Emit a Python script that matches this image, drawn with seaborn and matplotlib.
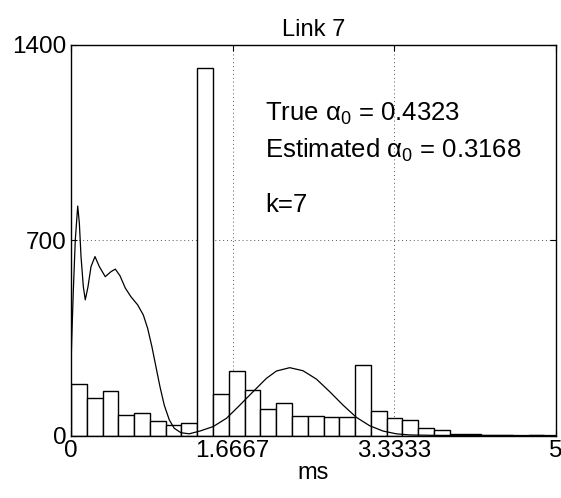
import matplotlib
matplotlib.use("Agg")
import matplotlib.pyplot as plt
import seaborn as sns
import pandas as pd

# histogram: 30 equal bins starting at 0
bin_width = 0.1627
counts = [183, 133, 160, 72, 80, 51, 37, 44, 1315, 147,
          232, 164, 95, 115, 69, 71, 65, 65, 251, 87,
          64, 54, 26, 20, 6, 4, 2, 1, 0, 1]

# fitted density curve (scaled)
curve_x = [0.0, 0.007, 0.024, 0.044, 0.069, 0.086, 0.103, 0.127, 0.147, 0.175,
           0.206, 0.247, 0.292, 0.353, 0.412, 0.457, 0.505, 0.560, 0.618, 0.687,
           0.745, 0.790, 0.834, 0.875, 0.917, 0.961, 1.013, 1.064, 1.133, 1.218,
           1.329, 1.466, 1.604, 1.741, 1.877, 2.015, 2.118, 2.255, 2.392, 2.530,
           2.667, 2.804, 2.942, 3.079, 3.216, 3.354, 3.491, 3.75, 4.2, 5.0]
curve_y = [250, 342, 521, 701, 822, 760, 641, 533, 486, 533,
           605, 641, 605, 569, 587, 596, 572, 528, 497, 468,
           432, 384, 318, 247, 175, 109, 56, 26, 10, 6,
           16, 32, 62, 109, 157, 205, 231, 243, 232, 202,
           157, 109, 65, 35, 16, 6, 2, 0.5, 0, 0]

xticks = [0, 1.6667, 3.3333, 5]
xtick_labels = ["0", "1.6667", "3.3333", "5"]
yticks = [0, 700, 1400]
ytick_labels = ["0", "700", "1400"]

sns.set_theme(style="ticks")
plt.rcParams["font.family"] = ["Liberation Sans", "DejaVu Sans"]
plt.rcParams["mathtext.fontset"] = "custom"
plt.rcParams["mathtext.rm"] = "Liberation Sans"
plt.rcParams["mathtext.it"] = "Liberation Sans"
plt.rcParams["mathtext.default"] = "rm"
plt.rcParams["text.color"] = "black"
plt.rcParams["axes.labelcolor"] = "black"

fig = plt.figure(figsize=(5.61, 4.98), dpi=100)
ax = fig.add_axes([0.1266, 0.1255, 0.8645, 0.7847])

n = len(counts)
edges = [i * bin_width for i in range(n + 1)]
hist_df = pd.DataFrame({"t": [e + bin_width / 2 for e in edges[:-1]], "n": counts})
sns.histplot(data=hist_df, x="t", weights="n", bins=edges, stat="count",
             color="white", edgecolor="black", linewidth=1.0, alpha=1.0, ax=ax)
sns.lineplot(x=curve_x, y=curve_y, color="black", linewidth=0.9, ax=ax)

ax.set_xlim(0, 5)
ax.set_ylim(0, 1400)
ax.set_xticks(xticks)
ax.set_xticklabels(xtick_labels)
ax.set_yticks(yticks)
ax.set_yticklabels(ytick_labels)
ax.tick_params(direction="in", length=4, width=0.8, top=True, right=True,
               labelsize=17.5, colors="black")
ax.tick_params(axis="x", pad=3)
ax.tick_params(axis="y", pad=3)
ax.grid(True, linestyle=(0, (1, 3)), color="#555555", linewidth=0.7)
for s in ax.spines.values():
    s.set_color("black")
    s.set_linewidth(1.0)
ax.set_ylabel("")
ax.set_xlabel("ms", fontsize=17, labelpad=0, color="black")
ax.set_title("Link 7", fontsize=17, pad=6, color="black")

ax.text(0.40, 0.823, r"True $\alpha_0$ = 0.4323", transform=ax.transAxes,
        fontsize=18.5, va="center", ha="left", color="black")
ax.text(0.40, 0.730, r"Estimated $\alpha_0$ = 0.3168", transform=ax.transAxes,
        fontsize=18.5, va="center", ha="left", color="black")
ax.text(0.40, 0.590, "k=7", transform=ax.transAxes,
        fontsize=18.5, va="center", ha="left", color="black")

fig.savefig("out.png", dpi=100)
